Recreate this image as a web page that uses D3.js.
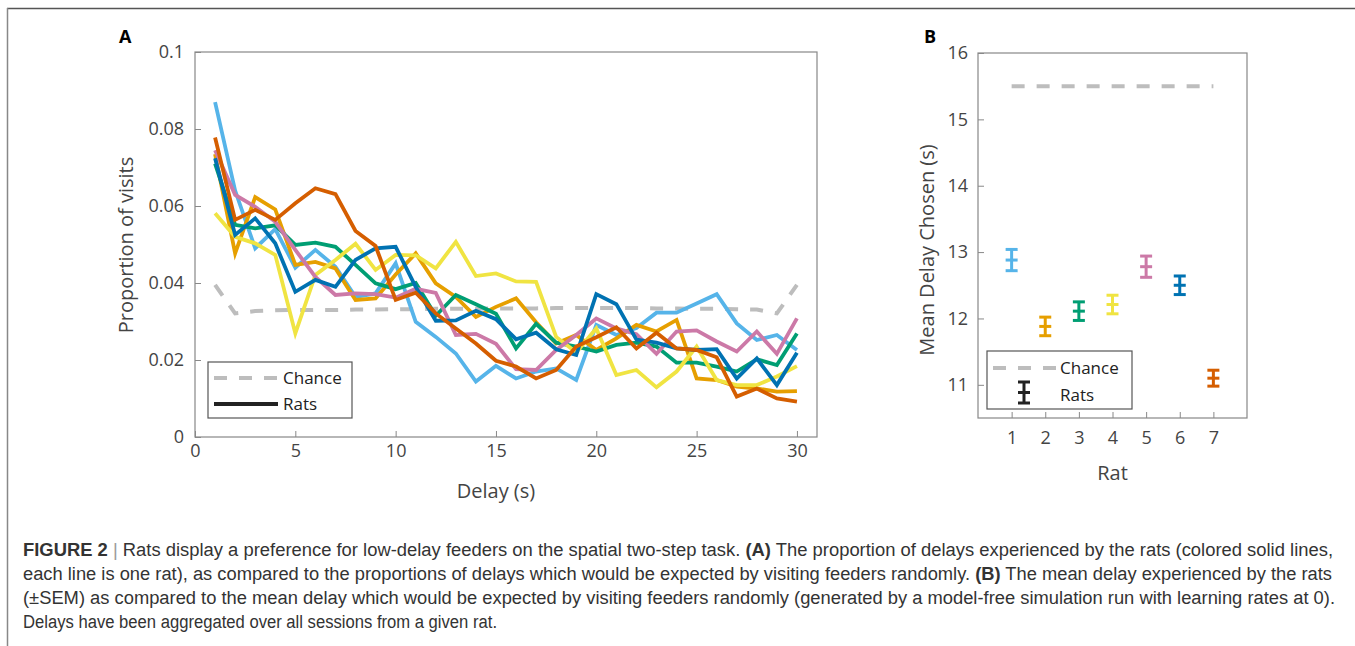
<!DOCTYPE html>
<html>
<head>
<meta charset="utf-8">
<script src="https://cdn.jsdelivr.net/npm/d3@7"></script>
<style>
  body { margin: 0; background: #fff; }
  svg { display: block; }
  .tick text { fill: #444; font-family: "Open Sans", sans-serif; font-size: 18px; }
  .tick line { stroke: #888; stroke-width: 1; }
  .axis-label { fill: #444; font-family: "Open Sans", sans-serif; font-size: 20px; }
  .legend-text { fill: #222; font-family: "Open Sans", sans-serif; font-size: 17px; }
  .panel-label { font-family: "Open Sans", sans-serif; font-size: 18px; font-weight: 700; }
  .caption { font-family: "Liberation Sans", Arial, sans-serif; font-size: 18px; fill: #333; }
</style>
</head>
<body>
<div id="wrapper"></div>
<script>
// data
const delays = [1, 2, 3, 4, 5, 6, 7, 8, 9, 10, 11, 12, 13, 14, 15,
  16, 17, 18, 19, 20, 21, 22, 23, 24, 25, 26, 27, 28, 29, 30];

const chance = [0.0395, 0.0321, 0.0327, 0.0329, 0.033, 0.033, 0.033, 0.0331, 0.0331, 0.0332,
  0.0332, 0.0333, 0.0333, 0.0333, 0.0334, 0.0334, 0.0334, 0.0335, 0.0335, 0.0335,
  0.0335, 0.0335, 0.0334, 0.0334, 0.0333, 0.0333, 0.0332, 0.0331, 0.0321, 0.0395];

const rat1 = [0.087, 0.064, 0.049, 0.054, 0.044, 0.0486, 0.0442, 0.0364, 0.0373, 0.0451,
  0.0299, 0.026, 0.0217, 0.0144, 0.0185, 0.0152, 0.017, 0.0178, 0.0148, 0.0291,
  0.0265, 0.0283, 0.0323, 0.0323, 0.0347, 0.0371, 0.0295, 0.0252, 0.0265, 0.0226];
const rat2 = [0.0735, 0.0477, 0.0623, 0.0591, 0.0447, 0.0455, 0.0438, 0.0356, 0.036, 0.0422,
  0.0477, 0.0399, 0.0364, 0.0312, 0.0338, 0.036, 0.0298, 0.0243, 0.0265, 0.0226,
  0.0256, 0.0291, 0.0274, 0.0304, 0.0152, 0.0148, 0.0131, 0.0126, 0.0118, 0.0119];
const rat3 = [0.071, 0.0551, 0.0542, 0.055, 0.0499, 0.0505, 0.0494, 0.0447, 0.0399, 0.0384,
  0.04, 0.0315, 0.0369, 0.0345, 0.032, 0.023, 0.0294, 0.0245, 0.0235, 0.0222,
  0.0239, 0.0245, 0.0235, 0.0193, 0.0193, 0.0183, 0.017, 0.0202, 0.0187, 0.0269];
const rat4 = [0.0581, 0.052, 0.0503, 0.0473, 0.0269, 0.0421, 0.046, 0.0502, 0.0434, 0.0473,
  0.0472, 0.0438, 0.0507, 0.0418, 0.0425, 0.0404, 0.0403, 0.026, 0.022, 0.0282,
  0.0161, 0.0174, 0.0129, 0.017, 0.0235, 0.0148, 0.0135, 0.0135, 0.0157, 0.0184];
const rat5 = [0.0745, 0.0629, 0.0598, 0.0559, 0.0486, 0.0416, 0.0369, 0.0373, 0.0371, 0.0362,
  0.0385, 0.0374, 0.0265, 0.0268, 0.0242, 0.0176, 0.0174, 0.0226, 0.0265, 0.0308,
  0.0282, 0.0267, 0.0216, 0.0274, 0.0277, 0.0248, 0.0222, 0.0274, 0.0216, 0.0308];
const rat6 = [0.0724, 0.0525, 0.0568, 0.0503, 0.0377, 0.0408, 0.039, 0.046, 0.049, 0.0494,
  0.039, 0.0302, 0.0303, 0.0328, 0.0306, 0.0254, 0.0271, 0.0228, 0.0213, 0.0371,
  0.0345, 0.0253, 0.0245, 0.023, 0.0226, 0.0228, 0.0152, 0.0204, 0.0135, 0.0219];
const rat7 = [0.0778, 0.0564, 0.059, 0.0564, 0.0607, 0.0646, 0.0631, 0.0535, 0.0496, 0.0356,
  0.0375, 0.0321, 0.0282, 0.0243, 0.0198, 0.0183, 0.0152, 0.0174, 0.0235, 0.0259,
  0.0285, 0.023, 0.0271, 0.023, 0.0226, 0.0207, 0.0105, 0.0126, 0.01, 0.0092];
const ratSeries = [rat1, rat2, rat3, rat4, rat5, rat6, rat7];

const ratColors = ["#56B4E9", "#E69F00", "#009E73", "#F0E442", "#CC79A7", "#0072B2", "#D55E00"];

const xTicksA = [0, 5, 10, 15, 20, 25, 30];
const yTicksA = [0, 0.02, 0.04, 0.06, 0.08, 0.1];
const yTickLabelsA = ["0", "0.02", "0.04", "0.06", "0.08", "0.1"];

// panel B
const ratIds = [1, 2, 3, 4, 5, 6, 7];
const meanDelay = [12.88, 11.88, 12.11, 12.21, 12.78, 12.5, 11.1];
const semDelay = [0.16, 0.14, 0.14, 0.14, 0.16, 0.14, 0.12];
const chanceDelay = 15.5;
const yTicksB = [11, 12, 13, 14, 15, 16];
const yTickLabelsB = ["11", "12", "13", "14", "15", "16"];

const captionLines = [
  [["FIGURE 2", true], [" | ", false], ["Rats display a preference for low-delay feeders on the spatial two-step task. ", false], ["(A)", true], [" The proportion of delays experienced by the rats (colored solid lines,", false]],
  [["each line is one rat), as compared to the proportions of delays which would be expected by visiting feeders randomly. ", false], ["(B)", true], [" The mean delay experienced by the rats", false]],
  [["(\u00B1SEM) as compared to the mean delay which would be expected by visiting feeders randomly (generated by a model-free simulation run with learning rates at 0).", false]],
  [["Delays have been aggregated over all sessions from a given rat.", false]]
];

function drawFigure() {
  const width = 1355;
  const height = 646;

  const wrapper = d3.select("#wrapper")
    .append("svg")
    .attr("width", width)
    .attr("height", height);

  // frame around the figure
  wrapper.append("line")
    .attr("x1", 7).attr("x2", width).attr("y1", 8.5).attr("y2", 8.5)
    .attr("stroke", "#555").attr("stroke-width", 1.5);
  wrapper.append("line")
    .attr("x1", 7.5).attr("x2", 7.5).attr("y1", 8).attr("y2", height)
    .attr("stroke", "#888").attr("stroke-width", 1.5);

  // ---------- Panel A ----------
  const dimsA = { left: 195, top: 52, width: 622, height: 385 };

  const xScaleA = d3.scaleLinear().domain([0, 31]).range([0, dimsA.width]);
  const yScaleA = d3.scaleLinear().domain([0, 0.1]).range([dimsA.height, 0]);

  const boundsA = wrapper.append("g")
    .attr("transform", `translate(${dimsA.left}, ${dimsA.top})`);

  boundsA.append("rect")
    .attr("width", dimsA.width).attr("height", dimsA.height)
    .attr("fill", "none").attr("stroke", "#888").attr("stroke-width", 1.2);

  const xAxisA = boundsA.append("g")
    .attr("transform", `translate(0, ${dimsA.height})`)
    .call(d3.axisBottom(xScaleA).tickValues(xTicksA).tickSize(-6).tickPadding(7));
  xAxisA.select(".domain").remove();

  const yAxisA = boundsA.append("g")
    .call(d3.axisLeft(yScaleA).tickValues(yTicksA).tickSize(-6).tickPadding(11)
      .tickFormat((d, i) => yTickLabelsA[i]));
  yAxisA.select(".domain").remove();

  const lineA = d3.line()
    .x((d, i) => xScaleA(delays[i]))
    .y(d => yScaleA(d));

  boundsA.append("path")
    .attr("d", lineA(chance))
    .attr("fill", "none")
    .attr("stroke", "#bdbdbd")
    .attr("stroke-width", 4)
    .attr("stroke-dasharray", "13,12");

  boundsA.selectAll(".rat-line")
    .data(ratSeries)
    .join("path")
    .attr("class", "rat-line")
    .attr("d", d => lineA(d))
    .attr("fill", "none")
    .attr("stroke", (d, i) => ratColors[i])
    .attr("stroke-width", 3.8)
    .attr("stroke-linejoin", "miter");

  wrapper.append("text")
    .attr("class", "axis-label")
    .attr("x", dimsA.left + xScaleA(15))
    .attr("y", 498)
    .attr("text-anchor", "middle")
    .text("Delay (s)");

  wrapper.append("text")
    .attr("class", "axis-label")
    .attr("transform", `translate(133, 245) rotate(-90)`)
    .attr("text-anchor", "middle")
    .text("Proportion of visits");

  // legend A
  const legendA = wrapper.append("g").attr("transform", "translate(208, 362)");
  legendA.append("rect")
    .attr("width", 144).attr("height", 56)
    .attr("fill", "#fff").attr("stroke", "#555").attr("stroke-width", 1.2);
  legendA.append("line")
    .attr("x1", 6).attr("x2", 76).attr("y1", 16).attr("y2", 16)
    .attr("stroke", "#bdbdbd").attr("stroke-width", 4).attr("stroke-dasharray", "13,12");
  legendA.append("line")
    .attr("x1", 6).attr("x2", 70).attr("y1", 42).attr("y2", 42)
    .attr("stroke", "#222").attr("stroke-width", 4);
  legendA.append("text").attr("class", "legend-text").attr("x", 75).attr("y", 22).text("Chance");
  legendA.append("text").attr("class", "legend-text").attr("x", 75).attr("y", 48).text("Rats");

  wrapper.append("text").attr("class", "panel-label").attr("x", 119).attr("y", 43).text("A");

  // ---------- Panel B ----------
  const dimsB = { left: 978, top: 53, width: 269, height: 365 };

  const xScaleB = d3.scaleLinear().domain([0, 8]).range([0, dimsB.width]);
  const yScaleB = d3.scaleLinear().domain([10.5, 16]).range([dimsB.height, 0]);

  const boundsB = wrapper.append("g")
    .attr("transform", `translate(${dimsB.left}, ${dimsB.top})`);

  boundsB.append("rect")
    .attr("width", dimsB.width).attr("height", dimsB.height)
    .attr("fill", "none").attr("stroke", "#888").attr("stroke-width", 1.2);

  const xAxisB = boundsB.append("g")
    .attr("transform", `translate(0, ${dimsB.height})`)
    .call(d3.axisBottom(xScaleB).tickValues(ratIds).tickSize(-6).tickPadding(13));
  xAxisB.select(".domain").remove();

  const yAxisB = boundsB.append("g")
    .call(d3.axisLeft(yScaleB).tickValues(yTicksB).tickSize(-6).tickPadding(10)
      .tickFormat((d, i) => yTickLabelsB[i]));
  yAxisB.select(".domain").remove();

  boundsB.append("line")
    .attr("x1", xScaleB(ratIds[0])).attr("x2", xScaleB(ratIds[ratIds.length - 1]))
    .attr("y1", yScaleB(chanceDelay)).attr("y2", yScaleB(chanceDelay))
    .attr("stroke", "#bdbdbd").attr("stroke-width", 4).attr("stroke-dasharray", "13,12");

  const capHalf = 6;
  const errGroups = boundsB.selectAll(".err")
    .data(ratIds)
    .join("g")
    .attr("class", "err")
    .attr("stroke", (d, i) => ratColors[i])
    .attr("stroke-width", 3);
  errGroups.append("line")
    .attr("x1", d => xScaleB(d)).attr("x2", d => xScaleB(d))
    .attr("y1", (d, i) => yScaleB(meanDelay[i] + semDelay[i]))
    .attr("y2", (d, i) => yScaleB(meanDelay[i] - semDelay[i]));
  errGroups.append("line")
    .attr("x1", d => xScaleB(d) - capHalf).attr("x2", d => xScaleB(d) + capHalf)
    .attr("y1", (d, i) => yScaleB(meanDelay[i] + semDelay[i]))
    .attr("y2", (d, i) => yScaleB(meanDelay[i] + semDelay[i]));
  errGroups.append("line")
    .attr("x1", d => xScaleB(d) - capHalf).attr("x2", d => xScaleB(d) + capHalf)
    .attr("y1", (d, i) => yScaleB(meanDelay[i] - semDelay[i]))
    .attr("y2", (d, i) => yScaleB(meanDelay[i] - semDelay[i]));
  errGroups.append("line")
    .attr("x1", d => xScaleB(d) - capHalf).attr("x2", d => xScaleB(d) + capHalf)
    .attr("y1", (d, i) => yScaleB(meanDelay[i]))
    .attr("y2", (d, i) => yScaleB(meanDelay[i]));

  wrapper.append("text")
    .attr("class", "axis-label")
    .attr("x", dimsB.left + xScaleB(4))
    .attr("y", 480)
    .attr("text-anchor", "middle")
    .text("Rat");

  wrapper.append("text")
    .attr("class", "axis-label")
    .attr("transform", `translate(934, 250) rotate(-90)`)
    .attr("text-anchor", "middle")
    .text("Mean Delay Chosen (s)");

  // legend B
  const legendB = wrapper.append("g").attr("transform", "translate(987, 351)");
  legendB.append("rect")
    .attr("width", 145).attr("height", 58)
    .attr("fill", "#fff").attr("stroke", "#555").attr("stroke-width", 1.2);
  legendB.append("line")
    .attr("x1", 6).attr("x2", 70).attr("y1", 17).attr("y2", 17)
    .attr("stroke", "#bdbdbd").attr("stroke-width", 4).attr("stroke-dasharray", "13,12");
  const legErr = legendB.append("g").attr("stroke", "#222").attr("stroke-width", 3);
  legErr.append("line").attr("x1", 37).attr("x2", 37).attr("y1", 31).attr("y2", 52);
  legErr.append("line").attr("x1", 31).attr("x2", 43).attr("y1", 31).attr("y2", 31);
  legErr.append("line").attr("x1", 31).attr("x2", 43).attr("y1", 52).attr("y2", 52);
  legErr.append("line").attr("x1", 31).attr("x2", 43).attr("y1", 41.5).attr("y2", 41.5);
  legendB.append("text").attr("class", "legend-text").attr("x", 73).attr("y", 23).text("Chance");
  legendB.append("text").attr("class", "legend-text").attr("x", 73).attr("y", 50).text("Rats");

  wrapper.append("text").attr("class", "panel-label").attr("x", 924).attr("y", 43).text("B");

  // ---------- Caption ----------
  const captionY = [556, 580, 604, 628];
  const captionWidths = [1310, 1309, 1312, 474];
  captionLines.forEach((parts, i) => {
    const t = wrapper.append("text")
      .attr("class", "caption")
      .attr("x", 23)
      .attr("y", captionY[i])
      .attr("textLength", captionWidths[i])
      .attr("lengthAdjust", "spacingAndGlyphs");
    parts.forEach(([str, bold]) => {
      t.append("tspan")
        .attr("font-weight", bold ? 700 : 400)
        .attr("fill", str === " | " ? "#999" : "#333")
        .text(str);
    });
  });
}
drawFigure();
</script>
</body>
</html>
